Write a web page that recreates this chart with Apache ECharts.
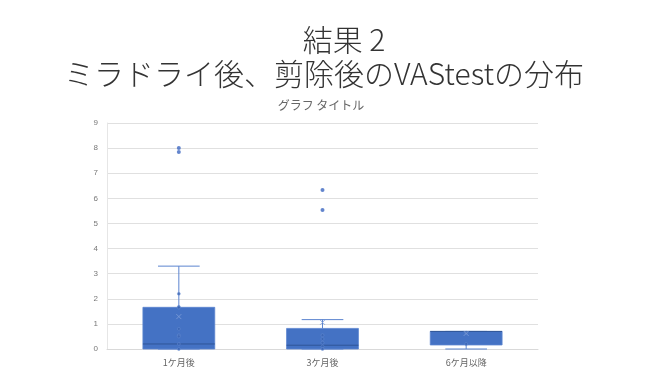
<!DOCTYPE html>
<html><head><meta charset="utf-8">
<script src="https://cdn.jsdelivr.net/npm/echarts@6/dist/echarts.min.js"></script>
<style>html,body{margin:0;padding:0;background:#fff}#c{width:670px;height:376px}</style>
</head><body><div id="c"></div>
<script>
const categories = ['1ケ月後', '3ケ月後', '6ケ月以降'];
// [min, q1, median, q3, max]
const boxStats = [
  [0, 0, 0.2, 1.66, 3.3],
  [0, 0, 0.15, 0.82, 1.17],
  [0.0, 0.16, 0.7, 0.7, 0.7]
];
const means = [1.29, 1.06, 0.62];
const innerPoints = [
  [2.2, 1.68, 1.65, 0.8, 0.55, 0.5, 0.2, 0],
  [0.55, 0.4, 0.25, 0.1, 0],
  [0.65, 0.2]
];
const outliers = [
  [8.0, 7.85],
  [6.33, 5.54],
  []
];
const yTicks = [0, 1, 2, 3, 4, 5, 6, 7, 8, 9];

const boxData = boxStats.map((s, i) => [i].concat(s));
const pointData = [];
innerPoints.forEach((arr, i) => arr.forEach(v => pointData.push([i, v])));
const outlierData = [];
outliers.forEach((arr, i) => arr.forEach(v => outlierData.push([i, v])));
const meanData = means.map((v, i) => [i, v]);

const chart = echarts.init(document.getElementById('c'));
const fill = '#4472C4';
chart.setOption({
  animation: false,
  backgroundColor: '#fff',
  title: [
    { text: '結果 2', left: 339, top: 20, textAlign: 'center',
      textStyle: { fontFamily: 'Noto Sans CJK JP', fontWeight: 300, fontSize: 30, color: '#333' } },
    { text: 'ミラドライ後、剪除後のVAStestの分布', left: 319, top: 54, textAlign: 'center',
      textStyle: { fontFamily: 'Noto Sans CJK JP', fontWeight: 300, fontSize: 30, color: '#333' } },
    { text: 'グラフ タイトル', left: 316, top: 94, textAlign: 'center',
      textStyle: { fontFamily: 'Noto Sans CJK JP', fontWeight: 'normal', fontSize: 12, color: '#666' } }
  ],
  grid: { left: 107, right: 132, top: 123, bottom: 27 },
  xAxis: {
    type: 'category', data: categories, boundaryGap: true,
    axisLine: { lineStyle: { color: '#d9d9d9' } },
    axisTick: { show: false },
    axisLabel: { color: '#666', fontSize: 9, margin: 9, fontFamily: 'Noto Sans CJK JP' },
    splitLine: { show: false }
  },
  yAxis: {
    type: 'value', min: yTicks[0], max: yTicks[yTicks.length - 1], interval: 1,
    axisLine: { show: true, lineStyle: { color: '#e6e6e6' } },
    axisTick: { show: false },
    axisLabel: { color: '#777', fontSize: 8, margin: 9 },
    splitLine: { lineStyle: { color: '#e0e0e0' } }
  },
  series: [
    {
      type: 'custom', data: boxData, z: 2,
      encode: { x: 0, y: [1, 2, 3, 4, 5] },
      renderItem: function (params, api) {
        const c = api.value(0);
        const bw = api.size([1, 0])[0] * 0.5;
        const pMin = api.coord([c, api.value(1)]);
        const pQ1 = api.coord([c, api.value(2)]);
        const pMed = api.coord([c, api.value(3)]);
        const pQ3 = api.coord([c, api.value(4)]);
        const pMax = api.coord([c, api.value(5)]);
        const x = pQ1[0];
        const cap = bw * 0.29;
        const lineStyle = { stroke: '#5b84cf', lineWidth: 1 };
        return {
          type: 'group',
          children: [
            { type: 'line', shape: { x1: x, y1: pQ3[1], x2: x, y2: pMax[1] }, style: lineStyle },
            { type: 'line', shape: { x1: x - cap, y1: pMax[1], x2: x + cap, y2: pMax[1] }, style: lineStyle },
            { type: 'line', shape: { x1: x, y1: pQ1[1], x2: x, y2: pMin[1] }, style: lineStyle },
            { type: 'line', shape: { x1: x - cap, y1: pMin[1], x2: x + cap, y2: pMin[1] }, style: lineStyle },
            { type: 'rect', shape: { x: x - bw / 2, y: pQ3[1], width: bw, height: pQ1[1] - pQ3[1] },
              style: { fill: fill, stroke: '#5b84cf', lineWidth: 0.8 } },
            { type: 'line', shape: { x1: x - bw / 2, y1: pMed[1], x2: x + bw / 2, y2: pMed[1] },
              style: { stroke: '#2f5597', lineWidth: 1 } }
          ]
        };
      }
    },
    {
      type: 'scatter', data: pointData, symbol: 'circle', symbolSize: 3, z: 3,
      itemStyle: { color: '#3a64b3', borderColor: '#6f93d6', borderWidth: 0.5 }
    },
    {
      type: 'scatter', data: outlierData, symbol: 'circle', symbolSize: 4, z: 3,
      itemStyle: { color: '#3c67c0' }
    },
    {
      type: 'scatter', data: meanData, z: 3, symbolSize: 5,
      symbol: 'path://M0,0 L10,10 M10,0 L0,10',
      itemStyle: { color: 'none', borderColor: '#7f9fd8', borderWidth: 1 }
    }
  ]
});
</script></body></html>
